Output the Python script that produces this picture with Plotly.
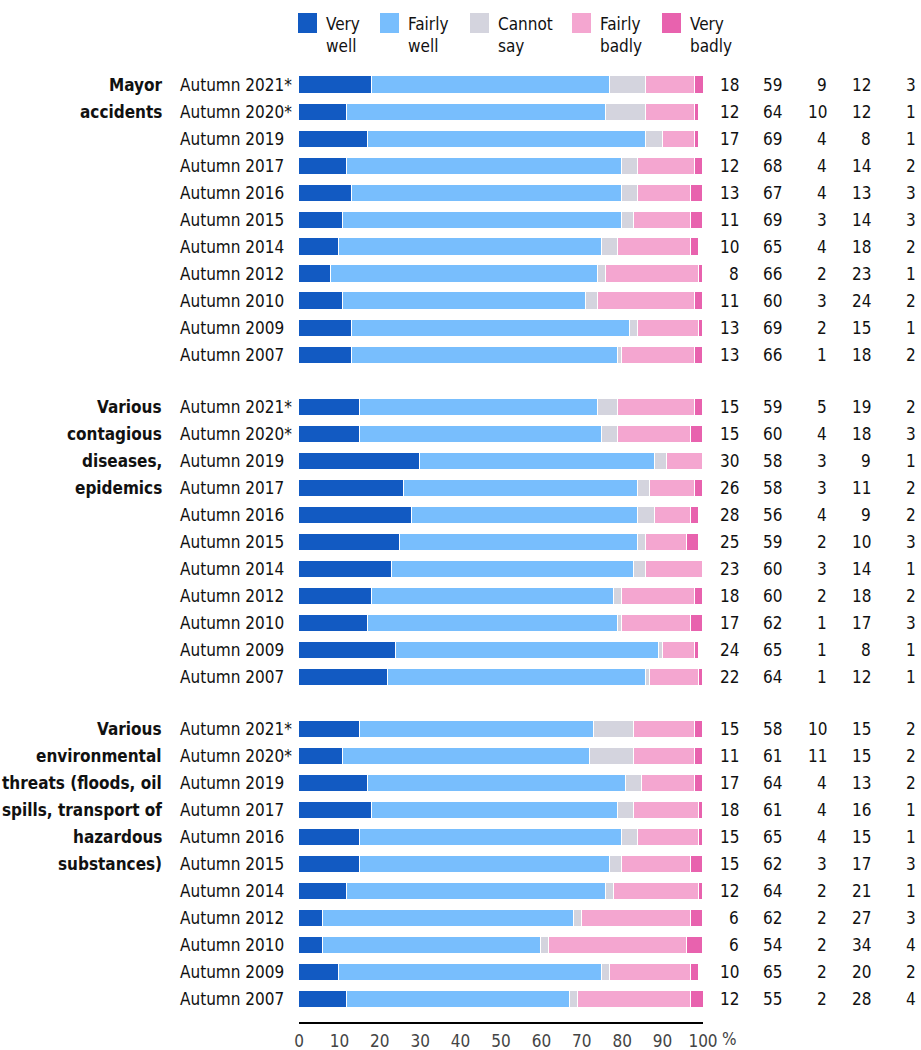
import plotly.graph_objects as go

# Survey groups and the years asked in each
groups = [
    ["Mayor", "accidents"],
    ["Various", "contagious", "diseases,", "epidemics"],
    ["Various", "environmental", "threats (floods, oil", "spills, transport of",
     "hazardous", "substances)"],
]
years = ["Autumn 2021*", "Autumn 2020*", "Autumn 2019", "Autumn 2017", "Autumn 2016",
         "Autumn 2015", "Autumn 2014", "Autumn 2012", "Autumn 2010", "Autumn 2009",
         "Autumn 2007"]

categories = ["Very<br>well", "Fairly<br>well", "Cannot<br>say", "Fairly<br>badly", "Very<br>badly"]
colors = ["#125AC2", "#78BEFD", "#D4D4DE", "#F4A6D0", "#E862AE"]

# Percent answers per row: very well, fairly well, cannot say, fairly badly, very badly
major_accidents = [
    [18, 59, 9, 12, 3], [12, 64, 10, 12, 1], [17, 69, 4, 8, 1], [12, 68, 4, 14, 2],
    [13, 67, 4, 13, 3], [11, 69, 3, 14, 3], [10, 65, 4, 18, 2], [8, 66, 2, 23, 1],
    [11, 60, 3, 24, 2], [13, 69, 2, 15, 1], [13, 66, 1, 18, 2],
]
epidemics = [
    [15, 59, 5, 19, 2], [15, 60, 4, 18, 3], [30, 58, 3, 9, 1], [26, 58, 3, 11, 2],
    [28, 56, 4, 9, 2], [25, 59, 2, 10, 3], [23, 60, 3, 14, 1], [18, 60, 2, 18, 2],
    [17, 62, 1, 17, 3], [24, 65, 1, 8, 1], [22, 64, 1, 12, 1],
]
environmental = [
    [15, 58, 10, 15, 2], [11, 61, 11, 15, 2], [17, 64, 4, 13, 2], [18, 61, 4, 16, 1],
    [15, 65, 4, 15, 1], [15, 62, 3, 17, 3], [12, 64, 2, 21, 1], [6, 62, 2, 27, 3],
    [6, 54, 2, 34, 4], [10, 65, 2, 20, 2], [12, 55, 2, 28, 4],
]
group_values = [major_accidents, epidemics, environmental]

x_ticks = [0, 10, 20, 30, 40, 50, 60, 70, 80, 90, 100]

FONT = "DejaVu Sans Condensed, Liberation Sans Narrow, sans-serif"
FS = 17
W, H = 921, 1050
L, R, T, B = 299, 218, 72, 28
PW, PH = W - L - R, H - T - B
GROUP_STEP = 11.926  # row slots per group incl. the blank spacer


def px_x(px):
    return (px - L) / PW


def px_y(py):
    return (H - B - py) / PH


rows_y, rows_vals = [], []
for g, vals in enumerate(group_values):
    for r, v in enumerate(vals):
        rows_y.append(g * GROUP_STEP + r)
        rows_vals.append(v)

fig = go.Figure()
for k, (name, col) in enumerate(zip(categories, colors)):
    fig.add_trace(go.Bar(
        y=rows_y, x=[v[k] for v in rows_vals], orientation="h", name=name,
        marker=dict(color=col, line=dict(color="white", width=1)),
        width=0.63, showlegend=False, hoverinfo="x",
    ))

ann = []
txt = dict(size=FS, color="#111")
# year labels and value columns
col_right = [741, 784, 829, 873, 918]
for y, v, lbl in zip(rows_y, rows_vals, years * 3):
    ann.append(dict(x=px_x(178), y=y, xref="paper", yref="y", text=lbl,
                    xanchor="left", yanchor="middle", showarrow=False, font=txt))
    for c, px in enumerate(col_right):
        ann.append(dict(x=px_x(px), y=y, xref="paper", yref="y", text=str(v[c]),
                        xanchor="right", yanchor="middle", showarrow=False, font=txt))
# group titles, one line per row
for g, lines in enumerate(groups):
    for r, line in enumerate(lines):
        ann.append(dict(x=px_x(164), y=g * GROUP_STEP + r, xref="paper", yref="y",
                        text="<b>%s</b>" % line, xanchor="right", yanchor="middle",
                        showarrow=False, font=txt))
# percent sign after the last tick
ann.append(dict(x=px_x(720), y=px_y(1039), xref="paper", yref="paper", text="%",
                xanchor="left", yanchor="middle", showarrow=False,
                font=dict(size=FS, color="#444")))

# legend built from swatches and two-line labels
shapes = []
sw_left = [298, 380, 470, 572, 662]
for px, name, col in zip(sw_left, categories, colors):
    shapes.append(dict(type="rect", xref="paper", yref="paper",
                       x0=px_x(px), x1=px_x(px + 19), y0=px_y(33), y1=px_y(13),
                       fillcolor=col, line=dict(width=0)))
    ann.append(dict(x=px_x(px + 26), y=px_y(35), xref="paper", yref="paper",
                    text=name, xanchor="left", yanchor="middle", align="left",
                    showarrow=False, font=txt))

fig.update_layout(
    width=W, height=H,
    margin=dict(l=L, r=R, t=T, b=B, autoexpand=False),
    paper_bgcolor="white", plot_bgcolor="white",
    barmode="stack", bargap=0,
    font=dict(family=FONT, size=FS, color="#111"),
    annotations=ann, shapes=shapes,
    xaxis=dict(range=[0, 100], tickvals=x_ticks, ticktext=[str(t) for t in x_ticks],
               showgrid=False, zeroline=False, showline=True, linecolor="black",
               linewidth=2, ticks="", tickfont=dict(size=FS, color="#444"),
               ticklabelstandoff=3, automargin=False, fixedrange=True),
    yaxis=dict(range=[(H - B - 85) / 27, -(85 - T) / 27], showticklabels=False,
               showgrid=False, zeroline=False, showline=False, fixedrange=True),
)

fig.write_html("out.html")
